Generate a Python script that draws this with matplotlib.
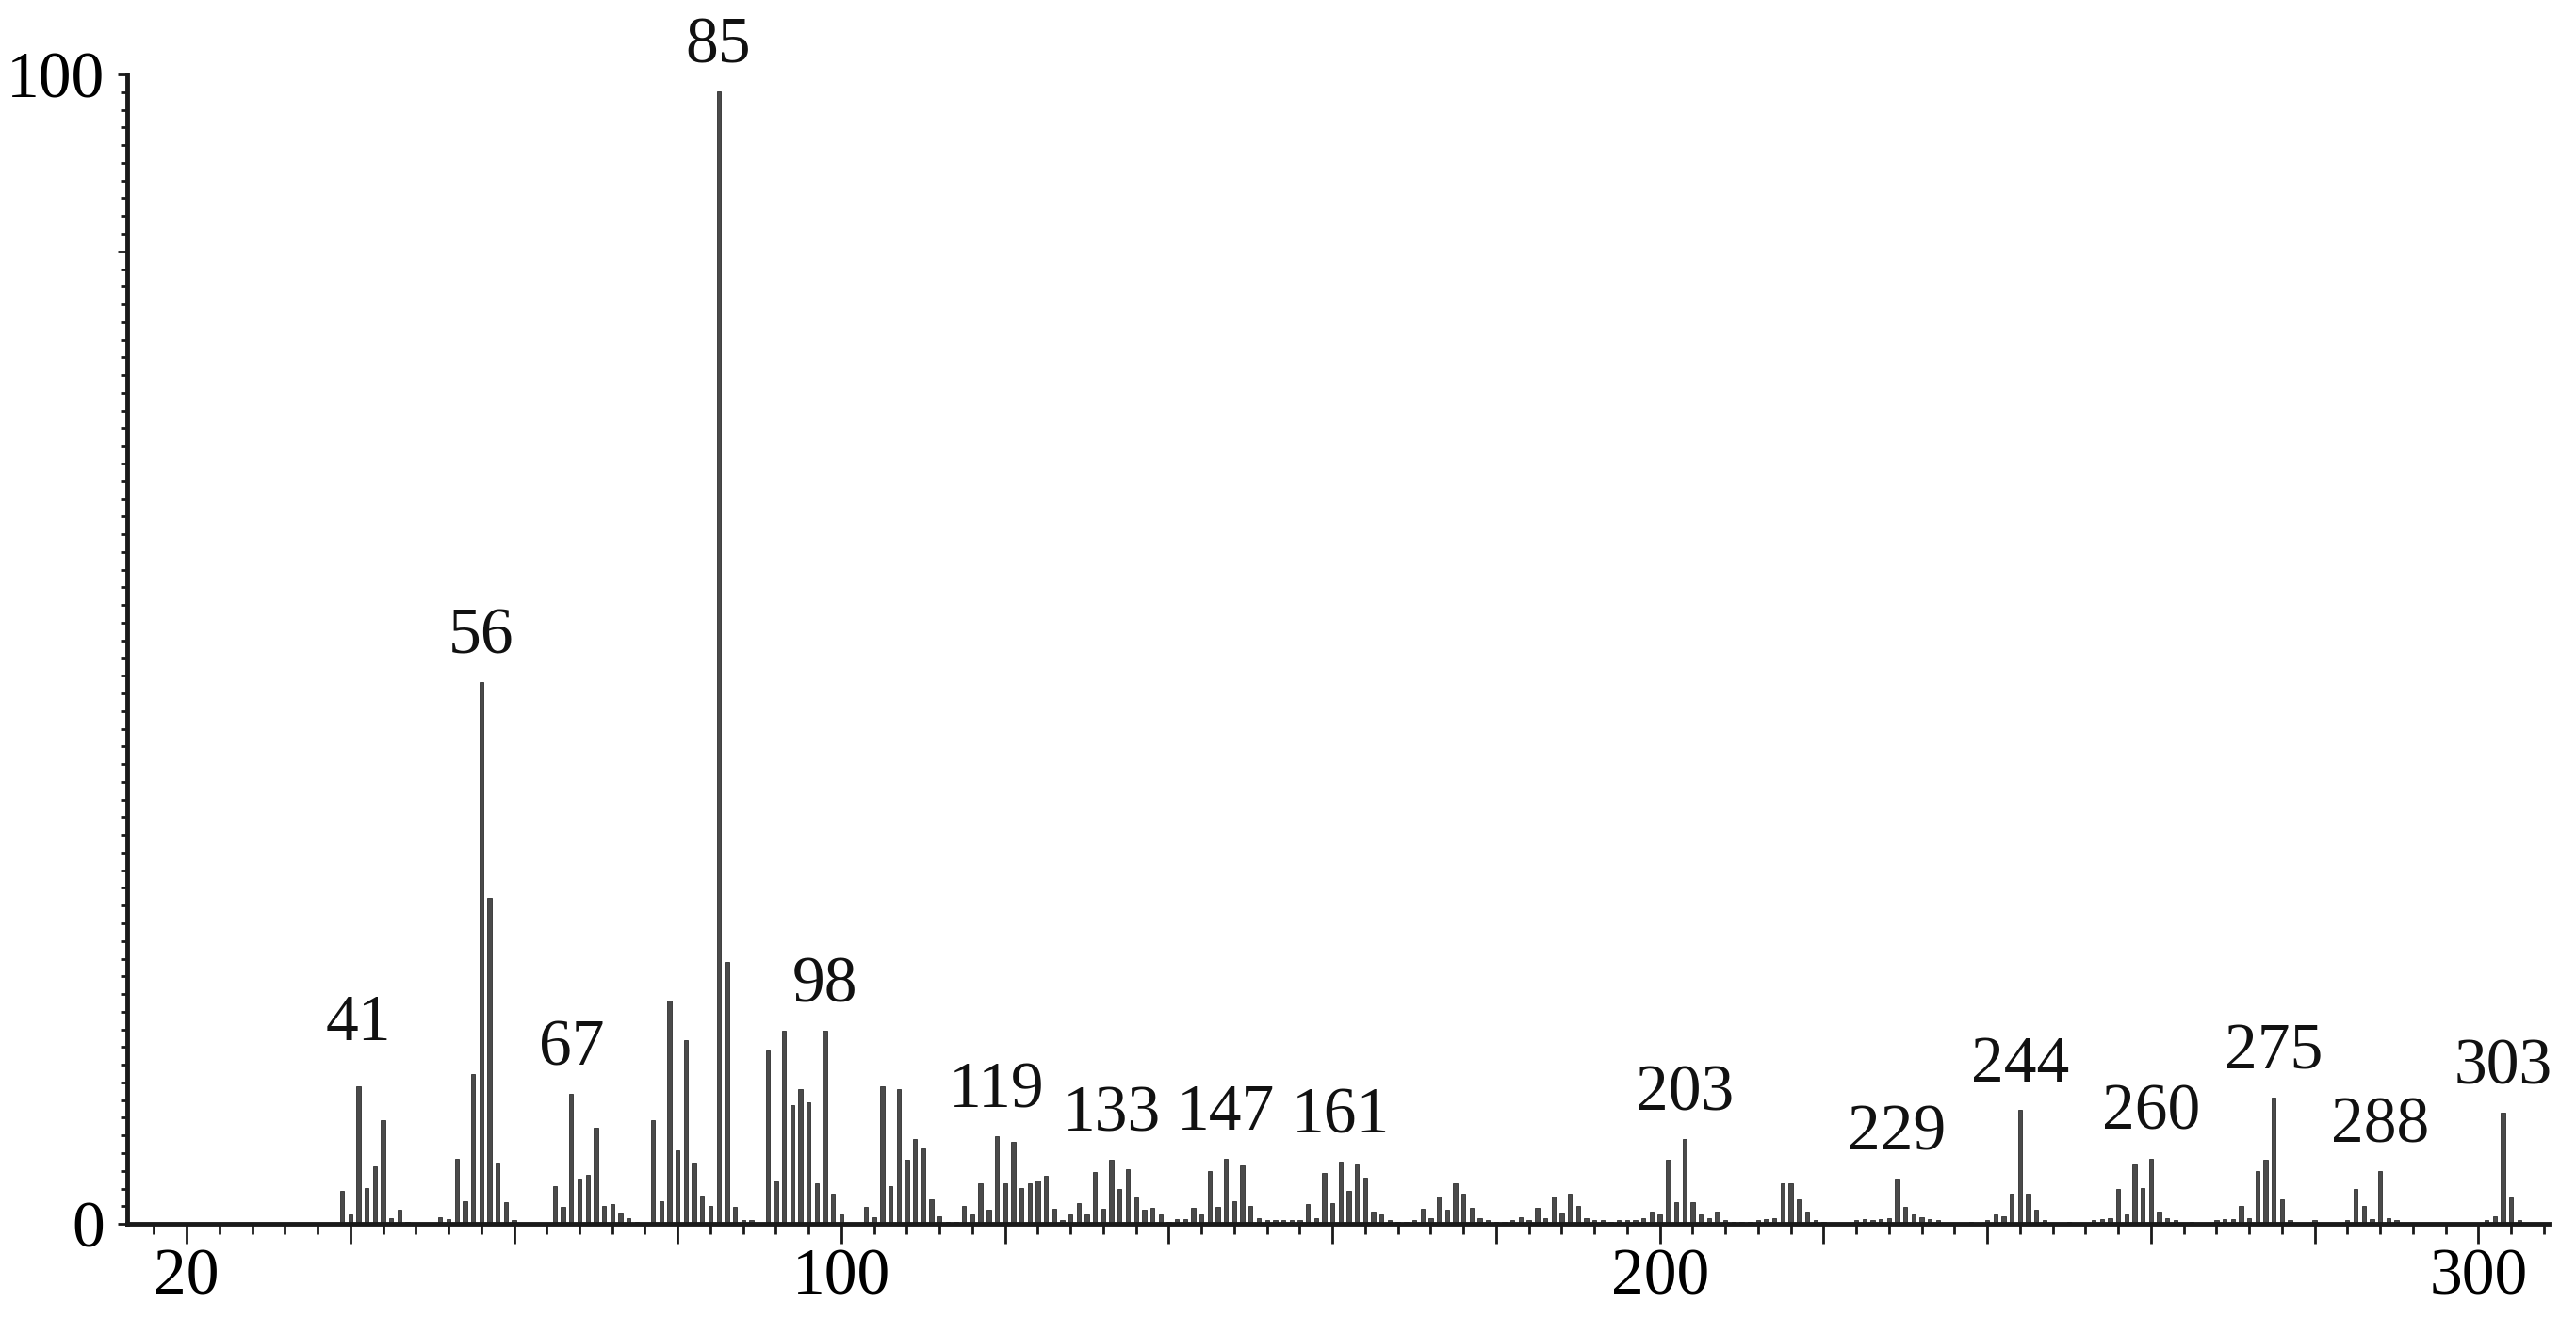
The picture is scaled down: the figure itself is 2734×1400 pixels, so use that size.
import numpy as np
import matplotlib.pyplot as plt

# m/z values and relative abundance (%)
mz = [39, 40, 41, 42, 43, 44, 45, 46, 47,
      51, 52, 53, 54, 55, 56, 57, 58, 59, 60,
      65, 66, 67, 68, 69, 70, 71, 72, 73, 74, 75,
      77, 78, 79, 80, 81, 82, 83, 84, 85, 86, 87, 88, 89,
      91, 92, 93, 94, 95, 96, 97, 98, 99, 100,
      103, 104, 105, 106, 107, 108, 109, 110, 111, 112, 113, 114,
      115, 116, 117, 118, 119, 120, 121, 122, 123, 124, 125, 126, 127,
      128, 129, 130, 131, 132, 133, 134, 135, 136, 137, 138, 139, 140,
      141, 142, 143, 144, 145, 146, 147, 148, 149, 150, 151, 152, 153,
      154, 155, 156, 157, 158, 159, 160, 161, 162, 163, 164, 165, 166,
      167, 168, 169, 170, 171, 172, 173, 174, 175, 176, 177, 178, 179,
      180, 181, 182, 183, 184, 185, 186, 187, 188, 189, 190, 191, 192,
      193, 194, 195, 196, 197, 198, 199, 200, 201, 202, 203, 204, 205,
      206, 207, 208, 209, 210, 211, 212, 213, 214, 215, 216, 217, 218,
      219, 220, 224, 225, 226, 227, 228, 229, 230, 231, 232, 233, 234,
      238, 240, 241, 242, 243, 244, 245, 246, 247, 250, 253, 254, 255,
      256, 257, 258, 259, 260, 261, 262, 263, 265, 268, 269, 270, 271,
      272, 273, 274, 275, 276, 277, 280, 284, 285, 286, 287, 288, 289,
      290, 301, 302, 303, 304, 305]
intensity = [2.9, 0.8, 12.0, 3.1, 5.0, 9.0, 0.5, 1.2, 0.2,
             0.6, 0.4, 5.7, 2.0, 13.0, 47.1, 28.4, 5.3, 1.9, 0.3,
             3.3, 1.5, 11.3, 3.9, 4.3, 8.4, 1.6, 1.7, 0.9, 0.5, 0.2,
             9.0, 2.0, 19.4, 6.4, 16.0, 5.3, 2.5, 1.6, 98.5, 22.8, 1.5, 0.3, 0.3,
             15.1, 3.7, 16.8, 10.3, 11.7, 10.6, 3.5, 16.8, 2.6, 0.8,
             1.5, 0.6, 12.0, 3.3, 11.7, 5.6, 7.4, 6.6, 2.1, 0.7, 0.2, 0.2,
             1.6, 0.8, 3.5, 1.2, 7.6, 3.5, 7.1, 3.1, 3.5, 3.8, 4.2, 1.3, 0.3,
             0.8, 1.8, 0.8, 4.5, 1.3, 5.6, 3.0, 4.8, 2.3, 1.2, 1.4, 0.8, 0.2,
             0.4, 0.4, 1.4, 0.8, 4.6, 1.5, 5.7, 2.0, 5.1, 1.6, 0.5, 0.3, 0.3,
             0.3, 0.3, 0.3, 1.7, 0.5, 4.4, 1.8, 5.4, 2.9, 5.2, 4.0, 1.1, 0.8,
             0.3, 0.2, 0.2, 0.3, 1.3, 0.5, 2.4, 1.2, 3.5, 2.6, 1.4, 0.5, 0.3,
             0.2, 0.2, 0.3, 0.6, 0.3, 1.4, 0.5, 2.4, 0.9, 2.6, 1.6, 0.5, 0.3,
             0.3, 0.2, 0.3, 0.3, 0.3, 0.5, 1.1, 0.8, 5.6, 1.9, 7.4, 1.9, 0.8,
             0.5, 1.1, 0.3, 0.2, 0.2, 0.2, 0.3, 0.4, 0.5, 3.5, 3.5, 2.1, 1.1,
             0.3, 0.2, 0.3, 0.4, 0.3, 0.4, 0.5, 3.9, 1.5, 0.8, 0.6, 0.4, 0.3,
             0.2, 0.3, 0.8, 0.7, 2.6, 9.9, 2.6, 1.2, 0.3, 0.2, 0.3, 0.4, 0.5,
             3.0, 0.8, 5.2, 3.1, 5.7, 1.1, 0.5, 0.3, 0.2, 0.3, 0.4, 0.4, 1.6,
             0.5, 4.6, 5.6, 11.0, 2.1, 0.3, 0.3, 0.3, 3.0, 1.6, 0.4, 4.6, 0.5,
             0.3, 0.3, 0.7, 9.7, 2.3, 0.3]

peak_labels = [41, 56, 67, 85, 98, 119, 133, 147, 161,
               203, 229, 244, 260, 275, 288, 303]

plt.rcParams['font.family'] = ['Liberation Serif', 'DejaVu Serif']

fig = plt.figure(figsize=(27.34, 14), dpi=100)
ax = fig.add_axes([0.0494, 0.0721, 0.9400, 0.8714])

ax.bar(mz, intensity, width=0.5, color='#4a4a4a', edgecolor='#2e2e2e',
       linewidth=0.6, zorder=2)

lookup = dict(zip(mz, intensity))
for p in peak_labels:
    gap = 35 if p == 41 else 22
    ax.annotate(str(p), (p, lookup[p]), xytext=(0, gap),
                textcoords='offset points', ha='center', va='baseline',
                fontsize=50, color='#111111')

ax.set_xlim(12.75, 308.6)
ax.set_ylim(0, 100)

for side in ['top', 'right']:
    ax.spines[side].set_visible(False)
for side in ['left', 'bottom']:
    ax.spines[side].set_linewidth(3.5)
    ax.spines[side].set_color('#1a1a1a')
    ax.spines[side].set_zorder(3)

xmaj = np.arange(20, 301, 20)
ax.set_xticks(xmaj)
ax.set_xticklabels([str(v) if v in (20, 100, 200, 300) else '' for v in xmaj])
ax.set_xticks(np.arange(16, 309, 4), minor=True)

ymin_step = 100 / 65
ax.set_yticks([0, 55 * ymin_step, 100])
ax.set_yticklabels(['0', '', '100'])
ax.set_yticks(np.arange(1, 65) * ymin_step, minor=True)

ax.tick_params(axis='x', which='major', direction='out', length=15, width=2,
               labelsize=50, pad=4, color='#1a1a1a')
ax.tick_params(axis='x', which='minor', direction='out', length=8, width=2,
               color='#1a1a1a')
ax.tick_params(axis='y', which='major', direction='out', length=7, width=2,
               labelsize=50, pad=10, color='#1a1a1a')
ax.tick_params(axis='y', which='minor', direction='out', length=5, width=2,
               color='#1a1a1a')

fig.savefig('out.png', dpi=100)
